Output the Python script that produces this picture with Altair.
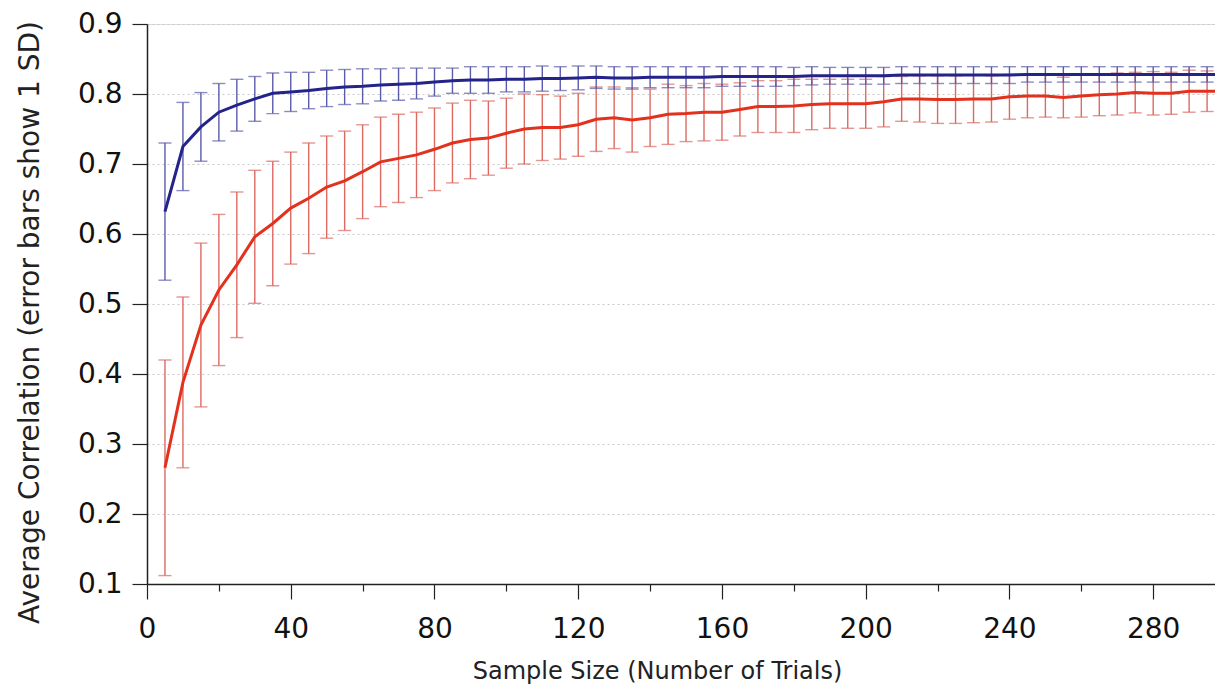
import altair as alt
import pandas as pd

sample_size = list(range(5, 305, 5))

blue_mean = [0.632, 0.725, 0.753, 0.774, 0.784, 0.793, 0.801, 0.803, 0.805, 0.808,
             0.810, 0.811, 0.813, 0.814, 0.815, 0.817, 0.819, 0.820, 0.820, 0.821,
             0.821, 0.822, 0.822, 0.823, 0.824, 0.823, 0.823, 0.824, 0.824, 0.824,
             0.824, 0.825, 0.825, 0.825, 0.825, 0.825, 0.826, 0.826, 0.826, 0.826,
             0.826, 0.827, 0.827, 0.827, 0.827, 0.827, 0.827, 0.827, 0.828, 0.828,
             0.828, 0.828, 0.828, 0.828, 0.828, 0.828, 0.828, 0.828, 0.828, 0.828]
blue_sd = [0.098, 0.063, 0.049, 0.041, 0.037, 0.032, 0.029, 0.028, 0.026, 0.026,
           0.025, 0.025, 0.023, 0.023, 0.022, 0.020, 0.018, 0.019, 0.019, 0.018,
           0.018, 0.018, 0.017, 0.017, 0.016, 0.016, 0.016, 0.015, 0.015, 0.015,
           0.015, 0.014, 0.014, 0.014, 0.014, 0.013, 0.013, 0.012, 0.012, 0.012,
           0.012, 0.012, 0.012, 0.012, 0.012, 0.012, 0.012, 0.012, 0.011, 0.011,
           0.011, 0.011, 0.011, 0.011, 0.011, 0.011, 0.011, 0.011, 0.011, 0.011]

red_mean = [0.266, 0.388, 0.470, 0.520, 0.556, 0.596, 0.615, 0.637, 0.651, 0.667,
            0.676, 0.689, 0.703, 0.708, 0.713, 0.721, 0.730, 0.735, 0.737, 0.744,
            0.750, 0.752, 0.752, 0.756, 0.764, 0.766, 0.763, 0.766, 0.771, 0.772,
            0.774, 0.774, 0.778, 0.782, 0.782, 0.783, 0.785, 0.786, 0.786, 0.786,
            0.789, 0.793, 0.793, 0.792, 0.792, 0.793, 0.793, 0.796, 0.797, 0.797,
            0.795, 0.797, 0.799, 0.800, 0.802, 0.801, 0.801, 0.804, 0.804, 0.804]
red_sd = [0.154, 0.122, 0.117, 0.108, 0.104, 0.095, 0.089, 0.080, 0.079, 0.073,
          0.071, 0.067, 0.064, 0.063, 0.061, 0.059, 0.057, 0.056, 0.053, 0.050,
          0.050, 0.047, 0.045, 0.045, 0.046, 0.044, 0.046, 0.041, 0.043, 0.040,
          0.041, 0.040, 0.038, 0.037, 0.037, 0.038, 0.036, 0.035, 0.035, 0.035,
          0.036, 0.032, 0.033, 0.034, 0.034, 0.034, 0.033, 0.032, 0.031, 0.030,
          0.029, 0.030, 0.030, 0.030, 0.029, 0.031, 0.030, 0.030, 0.029, 0.029]

x_ticks = list(range(0, 300, 20))
y_ticks = [0.1, 0.2, 0.3, 0.4, 0.5, 0.6, 0.7, 0.8, 0.9]

rows = []
for name, means, sds in (("blue", blue_mean, blue_sd), ("red", red_mean, red_sd)):
    for n, m, s in zip(sample_size, means, sds):
        rows.append({"series": name, "n": n, "mean": m, "lo": m - s, "hi": m + s})
df = pd.DataFrame(rows)

LINE = {"blue": "#23238a", "red": "#e2321e"}
BAR = {"blue": "#5b5bab", "red": "#dc6a62"}

x_scale = alt.Scale(domain=[0, 297.2], nice=False, zero=False)
y_scale = alt.Scale(domain=[0.1, 0.9], nice=False, zero=False)

x_axis = alt.Axis(
    values=x_ticks,
    labelExpr="datum.value % 40 === 0 ? datum.label : ''",
    title="Sample Size (Number of Trials)",
    titleFont="DejaVu Sans", titleFontSize=24, titleFontWeight="normal", titleColor="#222",
    titleX=510, titleY=94, titleBaseline="alphabetic", titleAnchor="middle",
    labelFont="DejaVu Sans", labelFontSize=28, labelColor="#111", labelPadding=16,
    tickSize={"condition": {"test": "datum.value % 40 === 0", "value": 15}, "value": 7},
    tickColor="#222", tickWidth=1.2, domainColor="#222", domainWidth=1.5,
    grid=False, labelFlush=False, labelOverlap=False,
)
y_axis = alt.Axis(
    values=y_ticks, format=".1f",
    title="Average Correlation (error bars show 1 SD)",
    titleFont="DejaVu Sans", titleFontSize=28, titleFontWeight="normal", titleColor="#222",
    titleX=-117, titleY=298, titleAngle=270, titleAlign="center", titleBaseline="middle",
    labelFont="DejaVu Sans", labelFontSize=28, labelColor="#111", labelPadding=10,
    tickSize=15, tickColor="#222", tickWidth=1.2, domainColor="#222", domainWidth=1.5,
    grid=True, gridColor="#c8c8c8", gridDash=[2, 3], gridWidth=1,
    labelOverlap=False,
)

base = alt.Chart(df)

layers = []
for s in ("red", "blue"):
    d = base.transform_filter(alt.datum.series == s)
    layers.append(d.mark_rule(color=BAR[s], strokeWidth=1.4, clip=True).encode(
        x=alt.X("n:Q", scale=x_scale, axis=x_axis),
        y=alt.Y("lo:Q", scale=y_scale, axis=y_axis),
        y2="hi:Q"))
    layers.append(d.mark_tick(color=BAR[s], orient="horizontal", size=13, thickness=1.4, clip=True).encode(
        x=alt.X("n:Q", scale=x_scale), y=alt.Y("lo:Q", scale=y_scale)))
    layers.append(d.mark_tick(color=BAR[s], orient="horizontal", size=13, thickness=1.4, clip=True).encode(
        x=alt.X("n:Q", scale=x_scale), y=alt.Y("hi:Q", scale=y_scale)))
for s in ("red", "blue"):
    d = base.transform_filter(alt.datum.series == s)
    layers.append(d.mark_line(color=LINE[s], strokeWidth=3, clip=True).encode(
        x=alt.X("n:Q", scale=x_scale), y=alt.Y("mean:Q", scale=y_scale)))

chart = alt.layer(*layers).properties(
    width=1068, height=560,
    autosize=alt.AutoSizeParams(type="none"),
    padding={"left": 139, "top": 16, "right": 0, "bottom": 104},
).configure_view(stroke=None).configure(background="white")

chart.save("out.html", embed_options={"renderer": "svg", "actions": False})
